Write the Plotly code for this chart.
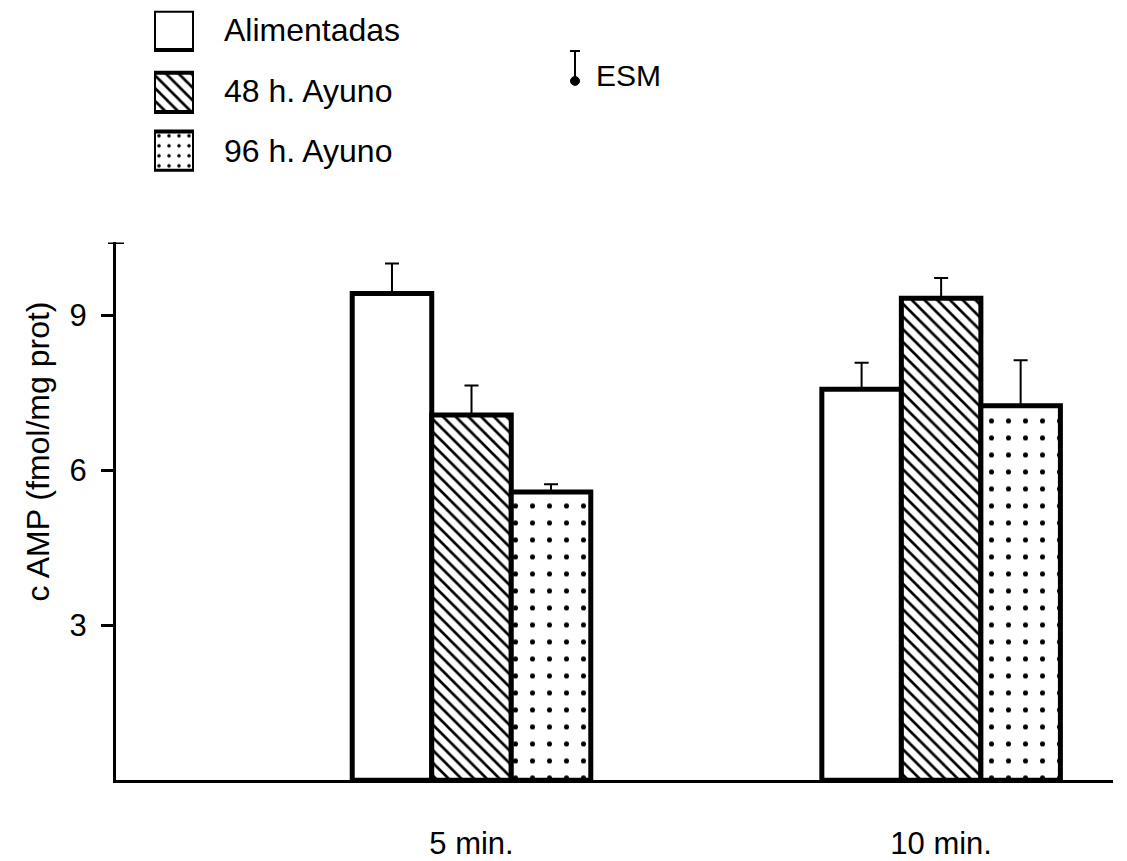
import plotly.graph_objects as go

# ---------------- data ----------------
categories = ["5 min.", "10 min."]
series_names = ["Alimentadas", "48 h. Ayuno", "96 h. Ayuno"]
alimentadas = [9.42, 7.57]
ayuno_48 = [7.07, 9.33]
ayuno_96 = [5.58, 7.25]
esm_alimentadas = [0.58, 0.51]
esm_48 = [0.57, 0.39]
esm_96 = [0.15, 0.88]
y_tick_vals = [3, 6, 9]
y_tick_text = ["3", "6", "9"]
y_title = "c AMP (fmol/mg prot)"
esm_label = "ESM"

# ---------------- layout helpers ----------------
W, H = 1127, 861
FONT = "Liberation Sans, Arial, sans-serif"


def px(x):
    return x / W


def py(y):
    return 1 - y / H


values = [alimentadas, ayuno_48, ayuno_96]
errors = [esm_alimentadas, esm_48, esm_96]
patterns = [
    dict(shape=""),
    dict(shape="\\", fgcolor="black", bgcolor="white", size=9, solidity=0.3, fillmode="replace"),
    dict(shape=".", fgcolor="black", bgcolor="white", size=17, solidity=0.07, fillmode="replace"),
]
key_patterns = [
    dict(shape=""),
    dict(shape="\\", fgcolor="black", bgcolor="white", size=9, solidity=0.3, fillmode="replace"),
    dict(shape=".", fgcolor="black", bgcolor="white", size=10, solidity=0.1, fillmode="replace"),
]

fig = go.Figure()

for name, vals, err, pat in zip(series_names, values, errors, patterns):
    fig.add_trace(go.Bar(
        x=categories, y=vals, name=name, showlegend=False,
        marker=dict(color="white", line=dict(color="black", width=5), pattern=pat),
        error_y=dict(type="data", symmetric=False, array=err, arrayminus=[0] * len(err),
                     color="black", thickness=2, width=7),
        xaxis="x", yaxis="y",
    ))

# legend keys drawn in an inset axis (rows measured from top, in px)
key_rows = [0, 63, 123]
for name, pat, top in zip(series_names, key_patterns, key_rows):
    fig.add_trace(go.Bar(
        x=[0], y=[40], base=[top], width=[1], offset=-0.5, showlegend=False,
        marker=dict(color="white", line=dict(color="black", width=4), pattern=pat),
        xaxis="x2", yaxis="y2", hoverinfo="skip",
    ))

annotations = []
label_y = [31, 93, 154]
for name, yy in zip(series_names, label_y):
    annotations.append(dict(x=px(222), y=py(yy), xref="paper", yref="paper", text=name,
                            showarrow=False, xanchor="left", yanchor="middle",
                            font=dict(family=FONT, size=32, color="black")))
annotations.append(dict(x=px(594), y=py(77), xref="paper", yref="paper", text=esm_label,
                        showarrow=False, xanchor="left", yanchor="middle",
                        font=dict(family=FONT, size=30, color="black")))
annotations.append(dict(x=px(38), y=py(460), xref="paper", yref="paper", text=y_title,
                        textangle=-90, showarrow=False, xanchor="center", yanchor="middle",
                        font=dict(family=FONT, size=32, color="black")))

shapes = [
    # cap at top of y axis
    dict(type="line", xref="paper", yref="y", x0=px(108), x1=px(124), y0=10.41, y1=10.41,
         line=dict(color="black", width=3)),
    # ESM symbol
    dict(type="line", xref="paper", yref="paper", x0=px(575), x1=px(575), y0=py(52), y1=py(82),
         line=dict(color="black", width=2)),
    dict(type="line", xref="paper", yref="paper", x0=px(570), x1=px(580), y0=py(52), y1=py(52),
         line=dict(color="black", width=2)),
    dict(type="circle", xref="paper", yref="paper", x0=px(570.5), x1=px(579.5), y0=py(78), y1=py(87),
         line=dict(color="black", width=1), fillcolor="black"),
]

fig.update_layout(
    width=W, height=H,
    margin=dict(l=0, r=0, t=0, b=0),
    paper_bgcolor="white", plot_bgcolor="white",
    barmode="group", bargap=0.492, bargroupgap=0,
    font=dict(family=FONT, color="black"),
    showlegend=False,
    annotations=annotations,
    shapes=shapes,
    xaxis=dict(domain=[px(116), px(1113)], range=[-0.757, 1.366], type="category",
               showline=True, linecolor="black", linewidth=3, showgrid=False, zeroline=False,
               ticks="outside", ticklen=34, tickcolor="rgba(0,0,0,0)",
               tickfont=dict(family=FONT, size=31, color="black"), anchor="y"),
    yaxis=dict(domain=[py(795), py(247)], range=[0, 10.41],
               showline=True, linecolor="black", linewidth=3, showgrid=False, zeroline=False,
               ticks="outside", ticklen=12, tickwidth=3, tickcolor="black",
               tickvals=y_tick_vals, ticktext=y_tick_text, ticklabelstandoff=8,
               tickfont=dict(family=FONT, size=31, color="black"), anchor="x"),
    xaxis2=dict(domain=[px(154), px(194)], range=[-0.5, 0.5], visible=False, anchor="y2"),
    yaxis2=dict(domain=[py(175), py(11)], range=[164, 0], visible=False, anchor="x2"),
)

fig.write_html("out.html", config={"displayModeBar": False},
               post_script="document.body.style.margin='0';document.body.style.overflow='hidden';")
